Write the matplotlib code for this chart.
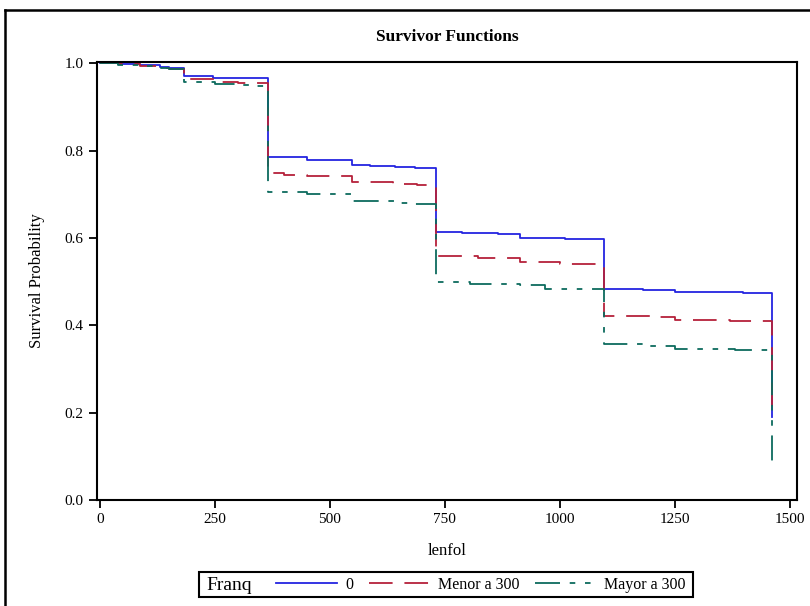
import matplotlib
matplotlib.use('Agg')
import matplotlib.pyplot as plt
from matplotlib.lines import Line2D
from matplotlib.patches import Rectangle

plt.rcParams['font.family'] = ['Liberation Serif', 'DejaVu Serif']
plt.rcParams['lines.scale_dashes'] = False

# Kaplan-Meier estimates (step functions, post)
time_0 = [0, 40, 87, 130, 150, 183, 246, 365, 450, 548, 587, 641, 685, 730,
          787, 865, 913, 1010, 1095, 1180, 1250, 1398, 1461]
surv_0 = [1.0, 0.998, 0.995, 0.991, 0.989, 0.970, 0.966, 0.785, 0.778, 0.767,
          0.765, 0.762, 0.760, 0.613, 0.611, 0.609, 0.600, 0.597, 0.483,
          0.480, 0.476, 0.474, 0.19]

time_1 = [0, 40, 87, 130, 150, 183, 250, 300, 365, 400, 450, 548, 637, 690,
          730, 822, 913, 1000, 1095, 1200, 1250, 1370, 1461]
surv_1 = [1.0, 0.998, 0.994, 0.990, 0.988, 0.963, 0.958, 0.955, 0.748, 0.745,
          0.741, 0.728, 0.723, 0.721, 0.558, 0.555, 0.545, 0.540, 0.421,
          0.418, 0.413, 0.410, 0.21]

time_2 = [0, 40, 87, 130, 150, 183, 250, 304, 333, 365, 450, 548, 652, 673,
          730, 804, 913, 967, 1095, 1180, 1250, 1380, 1461]
surv_2 = [1.0, 0.997, 0.993, 0.990, 0.988, 0.957, 0.953, 0.950, 0.947, 0.705,
          0.700, 0.684, 0.680, 0.677, 0.499, 0.494, 0.492, 0.483, 0.357,
          0.352, 0.346, 0.343, 0.09]

labels = ['0', 'Menor a 300', 'Mayor a 300']
colors = ['#2424e0', '#b5213a', '#0d6b5e']
dashes = [(None, None), (17, 8.5), (18, 7, 4, 7, 4, 7)]

fig = plt.figure(figsize=(8.1, 6.06), dpi=100)
ax = fig.add_axes([97/810, 1-500/606, 700/810, 438/606])

handles = []
for t, s, lab, c, d in zip([time_0, time_1, time_2], [surv_0, surv_1, surv_2],
                           labels, colors, dashes):
    ln, = ax.step(t, s, where='post', color=c, lw=1.3, label=lab)
    if d[0] is not None:
        ln.set_dashes(d)
    handles.append(ln)

ax.set_xlim(-6, 1515)
ax.set_ylim(0, 1.003)
ax.set_xticks([0, 250, 500, 750, 1000, 1250, 1500])
ax.set_yticks([0.0, 0.2, 0.4, 0.6, 0.8, 1.0])
ax.set_yticklabels(['0.0', '0.2', '0.4', '0.6', '0.8', '1.0'])
ax.tick_params(direction='out', length=6, width=1.3, labelsize=11, colors='black')
for sp in ax.spines.values():
    sp.set_linewidth(1.5)

ax.set_title('Survivor Functions', fontsize=12.5, fontweight='bold', pad=15)
ax.set_xlabel('lenfol', fontsize=12, labelpad=12)
ax.set_ylabel('Survival Probability', fontsize=12, labelpad=14)

# legend box at the bottom, with the group title inline
fig.patches.append(Rectangle((199/810, 1-597/606), 494/810, 25/606,
                             transform=fig.transFigure, fill=False,
                             edgecolor='black', lw=1.5))
fig.text(206/810, 1-585/606, 'Franq', fontsize=14, va='center', ha='left')
fig.legend(handles=handles, loc='center', bbox_to_anchor=(481/810, 1-585/606),
           ncol=3, frameon=False, fontsize=11.5, handlelength=3.8,
           handletextpad=0.55, columnspacing=0.95)

# outer graph border
fig.add_artist(Line2D([5/810, 5/810], [0, 1-10/606], transform=fig.transFigure,
                      color='black', lw=1.8))
fig.add_artist(Line2D([5/810, 1], [1-10/606, 1-10/606], transform=fig.transFigure,
                      color='black', lw=1.8))

fig.savefig('out.png', dpi=100)
